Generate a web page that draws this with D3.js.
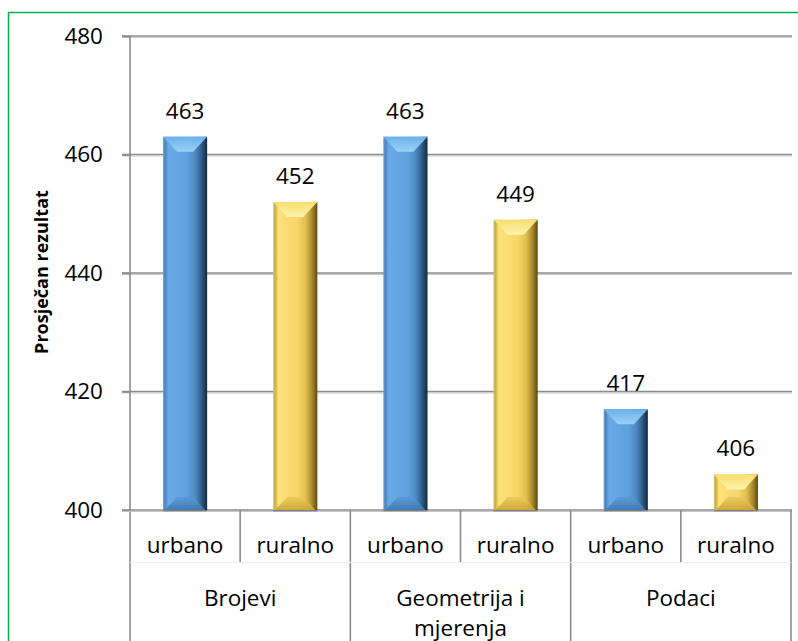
<!DOCTYPE html>
<html><head><meta charset="utf-8">
<script src="https://cdn.jsdelivr.net/npm/d3@7"></script>
<style>html,body{margin:0;padding:0;background:#fff;overflow:hidden}</style>
</head><body>
<svg id="c" width="798" height="641"></svg>
<script>
const groups = ["Brojevi", "Geometrija i mjerenja", "Podaci"];
const groupLines = [["Brojevi"], ["Geometrija i", "mjerenja"], ["Podaci"]];
const subcats = ["urbano", "ruralno"];
const urbanoValues = [463, 463, 417];
const ruralnoValues = [452, 449, 406];
const yTicks = [400, 420, 440, 460, 480];
const yTitle = "Prosječan rezultat";

(function () {
const FONT = "'Open Sans', 'Noto Sans', sans-serif";
const FS = 22.5;
const svg = d3.select("#c");
const pLeft = 130, pRight = 791, pTop = 36, pBottom = 510;

const bars = [];
groups.forEach((g, i) => {
  bars.push({g: i, s: 0, key: g + "|urbano", v: urbanoValues[i]});
  bars.push({g: i, s: 1, key: g + "|ruralno", v: ruralnoValues[i]});
});

const x = d3.scaleBand().domain(bars.map(d => d.key)).range([pLeft, pRight]).paddingInner(0.6).paddingOuter(0.3);
const xStep = d3.scaleBand().domain(bars.map(d => d.key)).range([pLeft, pRight]);
const y = d3.scaleLinear().domain([400, 480]).range([pBottom, pTop]);

const defs = svg.append("defs");
function hgrad(id, stops) {
  const g = defs.append("linearGradient").attr("id", id).attr("x1", 0).attr("x2", 1).attr("y1", 0).attr("y2", 0);
  stops.forEach(s => g.append("stop").attr("offset", s[0]).attr("stop-color", s[1]));
}
function vgrad(id, stops) {
  const g = defs.append("linearGradient").attr("id", id).attr("x1", 0).attr("x2", 0).attr("y1", 0).attr("y2", 1);
  stops.forEach(s => g.append("stop").attr("offset", s[0]).attr("stop-color", s[1]));
}
hgrad("bodyB", [[0, "#7fa8cf"], [0.04, "#4a83bd"], [0.12, "#68aae6"], [0.55, "#5fa2df"], [0.74, "#4c88c2"], [0.88, "#2d5a86"], [1, "#15273a"]]);
hgrad("bodyY", [[0, "#d8c680"], [0.04, "#c9ae40"], [0.12, "#fde27a"], [0.55, "#f6d667"], [0.74, "#e2bf50"], [0.88, "#a88a2c"], [1, "#5c4a14"]]);
vgrad("topB", [[0, "#6bb0ea"], [1, "#9ad2f7"]]);
vgrad("topY", [[0, "#f8de70"], [1, "#fff3ac"]]);
vgrad("botB", [[0, "#5a9ad4"], [1, "#3f78b0"]]);
vgrad("botY", [[0, "#ecca5a"], [1, "#c9a53a"]]);
defs.append("filter").attr("id", "sh").append("feDropShadow")
  .attr("dx", 0).attr("dy", 1.5).attr("stdDeviation", 0.6).attr("flood-color", "#000").attr("flood-opacity", 0.25);

svg.append("rect").attr("x", 8.5).attr("y", 12.5).attr("width", 900).attr("height", 900)
  .attr("fill", "none").attr("stroke", "#00b050").attr("stroke-width", 1.5);

const grid = svg.append("g");
yTicks.filter(t => t !== 400).forEach(t => {
  grid.append("line").attr("x1", 122).attr("x2", pRight + 1).attr("y1", y(t) + 1.5).attr("y2", y(t) + 1.5)
    .attr("stroke", "#c8c8c8").attr("stroke-width", 1.2);
  grid.append("line").attr("x1", 122).attr("x2", pRight + 1).attr("y1", y(t)).attr("y2", y(t))
    .attr("stroke", "#8c8c8c").attr("stroke-width", 1.6);
});

const yAxis = d3.axisLeft(y).tickValues(yTicks).tickSize(8).tickPadding(19);
const ya = svg.append("g").attr("transform", `translate(${pLeft},0)`).call(yAxis);
ya.select(".domain").remove();
ya.selectAll(".tick line").attr("stroke", "#8c8c8c").attr("stroke-width", 1.6);
ya.selectAll(".tick text").attr("font-family", FONT).attr("font-size", FS).attr("fill", "#000");
svg.append("line").attr("x1", pLeft).attr("x2", pLeft).attr("y1", pTop).attr("y2", 641)
  .attr("stroke", "#8c8c8c").attr("stroke-width", 1.6);

svg.append("line").attr("x1", 122).attr("x2", pRight + 1).attr("y1", pBottom + 1.5).attr("y2", pBottom + 1.5)
  .attr("stroke", "#c8c8c8").attr("stroke-width", 1.2);
svg.append("line").attr("x1", 122).attr("x2", pRight + 1).attr("y1", pBottom).attr("y2", pBottom)
  .attr("stroke", "#8c8c8c").attr("stroke-width", 1.6);

bars.forEach(d => {
  const xr = xStep(d.key) + xStep.bandwidth();
  const full = d.s === 1;
  svg.append("line").attr("x1", xr).attr("x2", xr).attr("y1", pBottom).attr("y2", full ? 641 : 562)
    .attr("stroke", "#8c8c8c").attr("stroke-width", 1.6);
});
svg.append("line").attr("x1", pLeft).attr("x2", pRight).attr("y1", 562.5).attr("y2", 562.5)
  .attr("stroke", "#eeeeee").attr("stroke-width", 1);

const bw = x.bandwidth();
const bg = svg.append("g");
bars.forEach(d => {
  const x0 = x(d.key), x1 = x0 + bw, yt = y(d.v), yb = y(400);
  const h = yb - yt;
  const bv = Math.min(15, h / 2), inset = Math.min(14, bw / 2 - 2);
  const c = d.s === 0 ? "B" : "Y";
  const g = bg.append("g").attr("filter", "url(#sh)");
  g.append("rect").attr("x", x0).attr("y", yt).attr("width", bw).attr("height", h).attr("fill", `url(#body${c})`);
  g.append("polygon").attr("points", [[x0, yt], [x1, yt], [x1 - inset, yt + bv], [x0 + inset, yt + bv]].map(p => p.join(",")).join(" "))
    .attr("fill", `url(#top${c})`);
  const bb = Math.min(13, h / 2);
  g.append("polygon").attr("points", [[x0 + 2, yb], [x1 - 2, yb], [x1 - inset, yb - bb], [x0 + inset, yb - bb]].map(p => p.join(",")).join(" "))
    .attr("fill", `url(#bot${c})`).attr("opacity", 0.9);
  svg.append("text").attr("x", x0 + bw / 2).attr("y", yt - 18).attr("text-anchor", "middle")
    .attr("font-family", FONT).attr("font-size", FS).attr("fill", "#000").text(d.v);
  svg.append("text").attr("x", xStep(d.key) + xStep.bandwidth() / 2).attr("y", 553).attr("text-anchor", "middle")
    .attr("font-family", FONT).attr("font-size", FS).attr("fill", "#000").text(subcats[d.s]);
});

groups.forEach((g, i) => {
  const gx = xStep(bars[i * 2].key) + xStep.bandwidth();
  groupLines[i].forEach((ln, j) => {
    svg.append("text").attr("x", gx).attr("y", 606 + j * 30).attr("text-anchor", "middle")
      .attr("font-family", FONT).attr("font-size", FS).attr("fill", "#000").text(ln);
  });
});

svg.append("text").attr("transform", "translate(48,272) rotate(-90)").attr("text-anchor", "middle")
  .attr("font-family", FONT).attr("font-weight", "bold").attr("font-size", 18).attr("fill", "#000").text(yTitle);
})();
</script>
</body></html>
